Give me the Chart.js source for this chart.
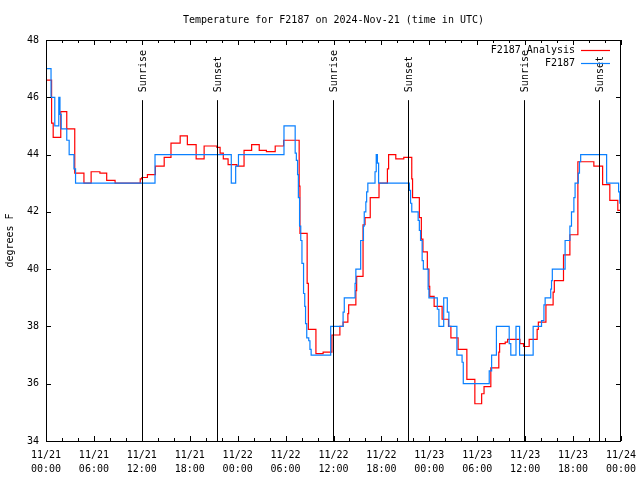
<!DOCTYPE html>
<html>
<head>
<meta charset="utf-8">
<title>Temperature for F2187</title>
<script src="https://cdn.jsdelivr.net/npm/chart.js@4.4.1/dist/chart.umd.min.js"></script>
<style>
    html, body { margin: 0; padding: 0; background: #fff; }
    #wrap { width: 640px; height: 480px; }
</style>
</head>
<body>
<div id="wrap"><canvas id="tempChart" width="640" height="480"></canvas></div>
<script>
// hours since 2024-11-21 00:00 UTC, temperature in degrees F
const analysisTimes = [0, 0.7, 0.9, 1.85, 2.6, 3.6, 4.75, 5.65, 6.75, 7.6, 8.65, 11.8, 12.0, 12.7,
    13.7, 14.8, 15.65, 16.8, 17.7, 18.8, 19.8, 21.4, 21.8, 22.2, 22.8, 23.9, 24.8, 25.75, 26.7,
    27.6, 28.7, 29.75, 31.7, 31.8, 32.7, 32.85, 33.8, 34.7, 35.8, 36.8, 37.2, 37.8, 37.9, 38.8,
    38.9, 39.7, 39.95, 40.6, 41.7, 42.75, 42.9, 43.8, 44.8, 45.8, 45.9, 46.75, 47.0, 47.2, 47.75,
    47.95, 48.05, 48.6, 49.6, 50.4, 50.7, 51.6, 52.7, 53.7, 54.55, 54.85, 55.7, 56.7, 56.8, 57.5,
    57.8, 59.35, 59.8, 60.5, 61.5, 61.65, 62.6, 63.5, 63.65, 64.8, 65.6, 66.6, 68.6, 69.7, 70.6,
    71.6, 72];
const analysisTemps = [46.6, 45.1, 44.6, 45.5, 44.9, 43.35, 43.0, 43.4, 43.35, 43.1, 43.0, 43.15, 43.2, 43.3,
    43.6, 43.9, 44.4, 44.65, 44.35, 43.85, 44.3, 44.25, 44.05, 43.85, 43.65, 43.6, 44.15, 44.35, 44.15,
    44.1, 44.3, 44.5, 42.9, 41.25, 39.5, 37.9, 37.05, 37.1, 37.7, 38.0, 38.15, 38.45, 38.75, 39.25,
    39.75, 41.55, 41.8, 42.5, 43.0, 43.5, 44.0, 43.85, 43.9, 43.15, 42.5, 41.8, 41.05, 40.6, 40.0,
    39.4, 39.05, 38.7, 38.25, 38.0, 37.6, 37.2, 36.15, 35.3, 35.65, 35.9, 36.55, 37.1, 37.4, 37.45,
    37.55, 37.4, 37.3, 37.55, 37.9, 38.15, 38.75, 39.2, 39.6, 40.5, 41.2, 43.75, 43.6, 42.95, 42.4,
    42.05, 42.05];

const stationTimes = [0, 0.63, 1.1, 1.6, 1.75, 1.9, 2.6, 2.9, 3.5, 3.7, 13.65, 23.2, 23.75, 24.1,
    29.8, 31.2, 31.35, 31.5, 31.6, 31.75, 31.9, 32.05, 32.25, 32.4, 32.5, 32.65, 32.9, 33.05, 33.2,
    35.65, 37.2, 37.35, 38.7, 38.8, 39.4, 39.75, 39.85, 40.05, 40.15, 40.3, 41.2, 41.35, 41.5, 41.65,
    45.5, 45.65, 45.8, 46.6, 46.75, 46.9, 47.1, 47.25, 47.85, 47.95, 49.0, 49.2, 49.8, 50.25, 50.45,
    51.45, 52.1, 52.25, 55.5, 55.8, 56.4, 58.0, 58.2, 58.85, 59.3, 61.0, 62.05, 62.35, 62.5, 63.2,
    63.3, 63.4, 65.0, 65.6, 65.8, 66.1, 66.25, 66.65, 66.8, 66.95, 70.2, 71.7, 71.85, 72];
const stationTemps = [47.0, 46.0, 45.0, 46.0, 45.4, 44.9, 44.5, 44.0, 43.5, 43.0, 44.0, 43.0, 43.6, 44.0,
    45.0, 44.05, 43.8, 43.3, 42.5, 41.5, 41.0, 40.2, 39.15, 38.7, 38.1, 37.6, 37.5, 37.2, 37.0,
    38.0, 38.5, 39.0, 39.5, 40.0, 41.0, 41.5, 42.0, 42.35, 42.7, 43.0, 43.4, 44.0, 43.7, 43.0,
    42.75, 42.3, 42.0, 41.7, 41.35, 41.0, 40.3, 40.0, 39.3, 39.0, 38.6, 38.0, 39.0, 38.5, 38.0,
    37.0, 36.75, 36.0, 36.45, 37.0, 38.0, 37.4, 37.0, 38.0, 37.0, 38.0, 38.2, 38.75, 39.0, 39.3,
    39.6, 40.0, 41.0, 41.5, 42.0, 42.5, 43.0, 43.35, 43.75, 44.0, 43.0, 42.7, 42.3, 42.0];

const sunTimes = [11.97, 21.37, 35.98, 45.37, 59.88, 69.3];
const sunLabels = ["Sunrise", "Sunset", "Sunrise", "Sunset", "Sunrise", "Sunset"];

const xTickLabels = [
    ["11/21", "00:00"], ["11/21", "06:00"], ["11/21", "12:00"], ["11/21", "18:00"],
    ["11/22", "00:00"], ["11/22", "06:00"], ["11/22", "12:00"], ["11/22", "18:00"],
    ["11/23", "00:00"], ["11/23", "06:00"], ["11/23", "12:00"], ["11/23", "18:00"],
    ["11/24", "00:00"],
];

const FONT = "'DejaVu Sans Mono', 'Liberation Mono', monospace";

function toPoints(times, temps) {
    return times.map((t, i) => ({ x: t, y: temps[i] }));
}

// gnuplot look: border, inward ticks, sun lines, legend, titles
const gnuplotDecor = {
    id: "gnuplotDecor",
    afterDatasetsDraw(chart) {
        const ctx = chart.ctx;
        const area = chart.chartArea;
        const xs = chart.scales.x;
        const ys = chart.scales.y;

        ctx.save();
        ctx.strokeStyle = "#000";
        ctx.fillStyle = "#000";
        ctx.lineWidth = 1;
        ctx.font = "10px " + FONT;

        // sunrise / sunset markers
        const lineTop = area.bottom - 0.85 * (area.bottom - area.top);
        sunTimes.forEach((t, i) => {
            const px = Math.round(xs.getPixelForValue(t)) + 0.5;
            ctx.beginPath();
            ctx.moveTo(px, area.bottom);
            ctx.lineTo(px, lineTop);
            ctx.stroke();

            ctx.save();
            ctx.translate(px + 1, lineTop - 8);
            ctx.rotate(-Math.PI / 2);
            ctx.textAlign = "left";
            ctx.textBaseline = "middle";
            ctx.fillText(sunLabels[i], 0, 0);
            ctx.restore();
        });

        // border
        ctx.strokeRect(area.left + 0.5, area.top + 0.5, area.right - area.left - 1, area.bottom - area.top);

        // x ticks every 2 h, longer every 6 h, on bottom and top
        for (let h = 0; h <= 72; h += 2) {
            const len = h % 6 === 0 ? 5 : 3;
            const px = Math.round(xs.getPixelForValue(h)) + 0.5;
            ctx.beginPath();
            ctx.moveTo(px, area.bottom);
            ctx.lineTo(px, area.bottom - len);
            ctx.moveTo(px, area.top);
            ctx.lineTo(px, area.top + len);
            ctx.stroke();
        }
        // y ticks on left and right
        for (let v = 34; v <= 48; v += 2) {
            const py = Math.round(ys.getPixelForValue(v)) + 0.5;
            ctx.beginPath();
            ctx.moveTo(area.left, py);
            ctx.lineTo(area.left + 5, py);
            ctx.moveTo(area.right, py);
            ctx.lineTo(area.right - 5, py);
            ctx.stroke();
        }

        // legend, top right inside the plot
        ctx.textAlign = "right";
        ctx.textBaseline = "middle";
        chart.data.datasets.forEach((ds, i) => {
            const y = area.top + 10 + i * 13;
            ctx.fillStyle = "#000";
            ctx.fillText(ds.label, area.right - 46, y);
            ctx.strokeStyle = ds.borderColor;
            ctx.lineWidth = 1.2;
            ctx.beginPath();
            ctx.moveTo(area.right - 40, y + 0.5);
            ctx.lineTo(area.right - 11, y + 0.5);
            ctx.stroke();
        });

        // title and y axis label
        ctx.fillStyle = "#000";
        ctx.textAlign = "center";
        ctx.fillText("Temperature for F2187 on 2024-Nov-21 (time in UTC)", (area.left + area.right) / 2, 20);
        ctx.save();
        ctx.translate(10, (area.top + area.bottom) / 2);
        ctx.rotate(-Math.PI / 2);
        ctx.fillText("degrees F", 0, 0);
        ctx.restore();

        ctx.restore();
    },
};

const ctx = document.getElementById("tempChart").getContext("2d");

window.tempChart = new Chart(ctx, {
    type: "line",
    data: {
        datasets: [
            {
                label: "F2187 Analysis",
                data: toPoints(analysisTimes, analysisTemps),
                borderColor: "#ff0000",
                borderWidth: 1.2,
                stepped: true,
                pointRadius: 0,
                order: 2,
            },
            {
                label: "F2187",
                data: toPoints(stationTimes, stationTemps),
                borderColor: "#0a80ff",
                borderWidth: 1.2,
                stepped: true,
                pointRadius: 0,
                order: 1,
            },
        ],
    },
    options: {
        responsive: false,
        animation: false,
        devicePixelRatio: 1,
        layout: {
            padding: { top: 40, right: 19, left: 0, bottom: 0 },
        },
        plugins: {
            legend: { display: false },
            title: { display: false },
            tooltip: { enabled: false },
        },
        scales: {
            x: {
                type: "linear",
                min: 0,
                max: 72,
                grid: { display: false, drawTicks: false },
                border: { display: false },
                afterFit: (scale) => {
                    scale.height = 39;
                    scale.paddingLeft = 0;
                    scale.paddingRight = 0;
                },
                ticks: {
                    stepSize: 6,
                    autoSkip: false,
                    maxRotation: 0,
                    padding: 7,
                    color: "#000",
                    font: { family: FONT, size: 10, lineHeight: 1.4 },
                    callback: (value) => xTickLabels[Math.round(value / 6)],
                },
            },
            y: {
                min: 34,
                max: 48,
                grid: { display: false, drawTicks: false },
                border: { display: false },
                afterFit: (scale) => {
                    scale.width = 46;
                    scale.paddingTop = 0;
                    scale.paddingBottom = 0;
                },
                ticks: {
                    stepSize: 2,
                    padding: 7,
                    color: "#000",
                    font: { family: FONT, size: 10 },
                },
            },
        },
    },
    plugins: [gnuplotDecor],
});
</script>
</body>
</html>
